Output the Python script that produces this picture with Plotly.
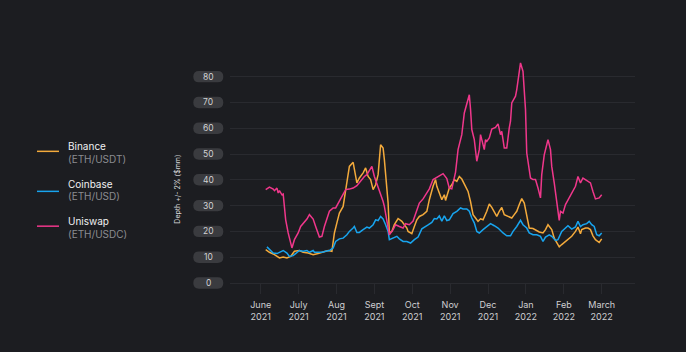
import pandas as pd
import plotly.graph_objects as go

# ---------------- data (days since 2021-06-01, depth in $mm) ----------------
START = pd.Timestamp("2021-06-01")

uniswap_days = [4, 7, 10, 11, 13, 14, 15, 17, 18, 20, 22, 25, 27, 30, 32, 35, 37, 39, 42, 44,
                47, 49, 51, 55, 58, 60, 62, 65, 68, 71, 74, 77, 81, 83, 85, 87, 89, 91, 94, 98,
                99, 101, 103, 106, 108, 111, 114, 116, 119, 122, 125, 127, 130, 133, 135, 138, 140, 142, 146, 149,
                151, 153, 154, 156, 158, 161, 163, 165, 167, 168, 169, 171, 172, 173, 175, 176, 177, 179, 180, 181,
                183, 185, 188, 190, 192, 193, 195, 197, 199, 200, 201, 204, 205, 207, 208, 210, 212, 213, 216, 218,
                220, 222, 224, 225, 227, 229, 230, 232, 233, 235, 237, 239, 240, 242, 244, 246, 249, 252, 254, 256,
                258, 261, 264, 266, 268, 271, 273]
uniswap_vals = [36.2, 37.2, 36.4, 35.8, 36.8, 34.9, 35.8, 34.2, 34.5, 24.5, 19.4, 13.6, 16.8, 19.4, 21.9, 23.5, 24.8, 26.5, 24.8, 21.9,
                17.8, 18.1, 21.9, 27.8, 29.1, 29.1, 31.0, 33.3, 36.2, 36.4, 36.8, 37.7, 40.1, 41.3, 42.0, 43.9, 45.2, 41.3, 37.5, 31.6,
                29.7, 23.3, 18.7, 20.7, 22.6, 21.9, 21.3, 23.0, 22.6, 24.0, 28.4, 31.0, 32.6, 35.0, 36.5, 40.1, 40.7, 41.0, 42.4, 40.5,
                36.8, 36.5, 38.5, 43.0, 51.7, 57.5, 65.9, 69.0, 73.0, 67.2, 59.5, 55.6, 51.7, 47.2, 51.7, 57.5, 55.6, 51.7, 55.6, 54.9,
                56.2, 59.7, 60.3, 61.7, 57.5, 58.8, 52.3, 52.3, 60.1, 62.7, 69.8, 72.4, 75.0, 82.7, 85.3, 82.0, 67.2, 50.4, 40.7, 40.1,
                40.1, 36.8, 33.0, 42.0, 49.7, 53.6, 55.6, 51.7, 45.2, 38.8, 32.3, 24.3, 27.8, 27.1, 30.4, 32.3, 34.9, 37.5, 41.3, 38.8,
                40.7, 39.8, 38.8, 35.5, 32.6, 33.0, 34.2]

binance_days = [4, 7, 11, 15, 18, 21, 24, 27, 31, 34, 38, 42, 46, 50, 54, 57, 59, 61, 63, 66,
                68, 70, 71, 74, 75, 77, 79, 82, 84, 86, 88, 90, 92, 94, 96, 98, 99, 100, 102, 103,
                105, 107, 110, 113, 117, 118, 121, 123, 125, 127, 130, 133, 135, 138, 140, 141, 143, 145, 147, 148,
                149, 151, 153, 155, 157, 159, 161, 163, 166, 168, 170, 172, 174, 176, 178, 181, 183, 185, 187, 189,
                191, 193, 195, 198, 201, 203, 205, 207, 209, 211, 213, 215, 218, 221, 223, 226, 228, 230, 232, 233,
                235, 237, 239, 241, 244, 246, 249, 252, 254, 256, 257, 260, 262, 264, 266, 268, 271, 273]
binance_vals = [12.9, 11.9, 11.0, 9.7, 10.1, 9.7, 10.3, 12.3, 12.6, 11.9, 11.6, 11.0, 11.4, 11.9, 12.6, 12.3, 19.4, 23.3, 27.1, 29.7,
                36.2, 42.7, 45.2, 46.8, 43.9, 38.8, 40.7, 42.7, 44.6, 41.3, 40.1, 36.2, 38.1, 42.0, 53.6, 52.3, 47.8, 42.0, 31.0, 19.4,
                20.0, 22.6, 25.0, 23.9, 21.3, 20.0, 19.1, 21.9, 24.5, 25.8, 26.5, 27.8, 32.3, 37.5, 40.1, 37.5, 34.9, 32.3, 34.2, 32.0,
                33.6, 36.8, 38.1, 40.1, 39.4, 41.3, 40.3, 38.1, 35.5, 31.5, 26.5, 25.2, 23.9, 24.9, 24.5, 27.8, 30.6, 29.3, 27.8, 25.8,
                27.8, 29.3, 26.5, 25.8, 25.2, 26.5, 27.8, 30.4, 32.7, 31.0, 26.5, 21.3, 21.1, 20.3, 19.8, 19.4, 20.7, 22.6, 21.3, 20.7,
                17.4, 15.5, 14.0, 14.9, 16.1, 17.1, 18.1, 20.0, 21.7, 19.1, 20.7, 21.3, 21.3, 20.7, 18.3, 16.8, 15.7, 17.1]

coinbase_days = [5, 7, 10, 13, 16, 18, 21, 23, 26, 29, 31, 34, 37, 39, 42, 43, 46, 49, 52, 55,
                 58, 60, 63, 66, 69, 71, 74, 75, 77, 79, 82, 85, 87, 90, 92, 94, 96, 98, 100, 102,
                 103, 106, 109, 111, 114, 117, 120, 123, 126, 129, 131, 134, 137, 139, 141, 143, 145, 147, 149, 151,
                 154, 157, 160, 162, 165, 167, 169, 171, 173, 175, 178, 181, 184, 187, 190, 194, 197, 200, 202, 205,
                 208, 210, 213, 215, 218, 221, 224, 226, 228, 231, 233, 236, 238, 241, 244, 246, 249, 252, 254, 256,
                 258, 261, 263, 265, 267, 269, 271, 273]
coinbase_vals = [14.0, 12.9, 11.6, 11.4, 12.0, 12.6, 11.6, 10.3, 10.6, 11.6, 12.6, 12.3, 12.6, 11.9, 12.6, 11.9, 11.9, 11.9, 12.3, 12.6,
                 13.6, 16.1, 17.1, 17.4, 18.7, 20.0, 21.3, 21.9, 19.6, 19.6, 20.7, 21.7, 21.3, 22.6, 24.5, 24.2, 25.8, 24.8, 22.6, 20.0,
                 16.8, 17.4, 18.1, 17.1, 16.1, 16.1, 15.5, 16.8, 17.8, 21.0, 21.5, 22.5, 23.5, 25.0, 24.8, 26.0, 24.0, 26.0, 24.2, 24.5,
                 26.9, 27.8, 29.1, 28.7, 28.7, 27.8, 25.2, 23.3, 20.0, 19.4, 20.7, 21.9, 23.0, 22.2, 21.3, 19.4, 18.3, 18.3, 20.0, 21.9,
                 24.3, 22.6, 21.3, 19.4, 18.7, 18.7, 18.1, 16.1, 17.8, 18.7, 18.1, 16.5, 16.8, 20.0, 21.3, 22.2, 20.9, 21.7, 23.9, 21.9,
                 22.6, 23.0, 23.9, 22.6, 21.9, 18.7, 18.3, 19.4]

series_names = ["Binance", "Coinbase", "Uniswap"]
series_pairs = ["(ETH/USDT)", "(ETH/USD)", "(ETH/USDC)"]
series_colors = ["#f3aa3c", "#18a4ee", "#f0378b"]

month_labels = ["June<br>2021", "July<br>2021", "Aug<br>2021", "Sept<br>2021", "Oct<br>2021",
                "Nov<br>2021", "Dec<br>2021", "Jan<br>2022", "Feb<br>2022", "March<br>2022"]
y_ticks = [0, 10, 20, 30, 40, 50, 60, 70, 80]

# ---------------- layout geometry ----------------
W, H = 686, 352
PL, PR = 230, 635          # plot area left/right px
PT, PB = 56.4, 283.3       # plot area top/bottom px
Y_MAX = 88
SPAN_DAYS = 273            # June 1 -> March 1
PX_PER_DAY = (601.7 - 260.7) / SPAN_DAYS


def to_dates(days):
    return [START + pd.Timedelta(days=d) for d in days]


def px_x(px):
    return (px - PL) / (PR - PL)


def px_y(py):
    return (PB - py) / (PB - PT)


x0_date = START + pd.Timedelta(days=(PL - 260.7) / PX_PER_DAY)
x1_date = START + pd.Timedelta(days=(PR - 260.7) / PX_PER_DAY)
tick_dates = [START + pd.Timedelta(days=k * SPAN_DAYS / 9) for k in range(10)]

BG = "#1c1d21"
GRID = "#292a2f"
FONT = "Inter, Roboto, sans-serif"

fig = go.Figure()
all_days = [binance_days, coinbase_days, uniswap_days]
all_vals = [binance_vals, coinbase_vals, uniswap_vals]
for name, c, d, v in zip(series_names, series_colors, all_days, all_vals):
    fig.add_trace(go.Scatter(x=to_dates(d), y=v, mode="lines", name=name,
                             line=dict(color=c, width=1.5), showlegend=False))

shapes = []
annotations = []

# y tick pills (stadium shapes drawn in pixel units around an anchor)
pill_cx = px_x(208.3)
pw, ph = 15, 5.7
pill_path = (f"M {-pw + ph},{-ph} L {pw - ph},{-ph} Q {pw},{-ph} {pw},0 Q {pw},{ph} {pw - ph},{ph} "
             f"L {-pw + ph},{ph} Q {-pw},{ph} {-pw},0 Q {-pw},{-ph} {-pw + ph},{-ph} Z")
for t in y_ticks:
    ty = t / Y_MAX
    shapes.append(dict(type="path", xref="paper", yref="paper", xsizemode="pixel", ysizemode="pixel",
                       xanchor=pill_cx, yanchor=ty, path=pill_path,
                       fillcolor="#3a3b3f", line=dict(width=0), layer="below"))
    annotations.append(dict(x=pill_cx, y=ty, xref="paper", yref="paper", text=str(t), showarrow=False,
                            font=dict(family=FONT, size=8.5, color="#d2d2d4"),
                            xanchor="center", yanchor="middle"))

# y axis title
annotations.append(dict(x=px_x(178), y=px_y(190), xref="paper", yref="paper",
                        text="Depth +/- 2% ($mm)", textangle=-90, showarrow=False,
                        font=dict(family=FONT, size=7, color="#d8d8da"),
                        xanchor="center", yanchor="middle"))

# custom legend
leg_line_y = [151.7, 191.7, 226.5]
leg_name_y = [146.7, 184.3, 221.7]
leg_pair_y = [159.0, 196.7, 234.0]
for i in range(3):
    shapes.append(dict(type="line", xref="paper", yref="paper",
                       x0=px_x(37), x1=px_x(59), y0=px_y(leg_line_y[i]), y1=px_y(leg_line_y[i]),
                       line=dict(color=series_colors[i], width=1.5)))
    annotations.append(dict(x=px_x(66), y=px_y(leg_name_y[i]), xref="paper", yref="paper",
                            text=series_names[i], showarrow=False, xanchor="left", yanchor="middle",
                            font=dict(family=FONT, size=10, color="#f0f0f2")))
    annotations.append(dict(x=px_x(66), y=px_y(leg_pair_y[i]), xref="paper", yref="paper",
                            text=series_pairs[i], showarrow=False, xanchor="left", yanchor="middle",
                            font=dict(family=FONT, size=10, color="#8b8c90")))

fig.update_layout(
    width=W, height=H,
    margin=dict(l=PL, r=W - PR, t=PT, b=H - PB),
    paper_bgcolor=BG, plot_bgcolor=BG,
    font=dict(family=FONT, color="#cfcfd2"),
    shapes=shapes, annotations=annotations,
    showlegend=False,
)
fig.update_xaxes(type="date", range=[x0_date, x1_date], tickvals=tick_dates, ticktext=month_labels,
                 showgrid=False, zeroline=False, showline=False,
                 ticks="outside", ticklen=10, tickwidth=1, tickcolor=GRID, ticklabelstandoff=3,
                 tickfont=dict(family=FONT, size=9, color="#cfcfd2"))
fig.update_yaxes(range=[0, Y_MAX], tickvals=y_ticks, showticklabels=False,
                 showgrid=True, gridcolor=GRID, gridwidth=1, zeroline=True, zerolinecolor=GRID,
                 zerolinewidth=1, showline=False, ticks="")

fig.write_html("out.html")
